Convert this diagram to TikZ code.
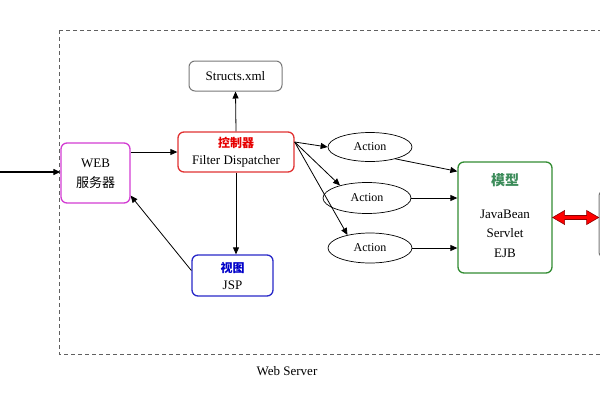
\documentclass[tikz,border=0pt]{standalone}
\usepackage{fontspec}
\setmainfont{Liberation Serif}
\newfontfamily\cjk{Noto Sans CJK SC}
\usetikzlibrary{shapes.geometric,arrows.meta,calc}
\definecolor{magbox}{RGB}{210,60,210}
\definecolor{redbox}{RGB}{225,50,50}
\definecolor{redtxt}{RGB}{230,0,0}
\definecolor{bluebox}{RGB}{40,40,200}
\definecolor{bluetxt}{RGB}{0,0,200}
\definecolor{greenbox}{RGB}{50,140,50}
\definecolor{greentxt}{RGB}{60,140,90}
\definecolor{graybox}{RGB}{120,120,120}
\definecolor{darkred}{RGB}{140,0,0}
\begin{document}
\begin{tikzpicture}[x=1pt,y=-1pt,
  font=\fontsize{13}{17}\selectfont,
  box/.style={draw, rounded corners=6pt, line width=1.3pt, inner sep=0pt, align=center},
  act/.style={draw, ellipse, line width=0.7pt, inner sep=0pt, font=\fontsize{12}{14}\selectfont},
  arr/.style={-{Triangle[length=7pt,width=6pt]}, line width=0.8pt},
  lbl/.style={font=\cjk\bfseries\fontsize{12}{14}\selectfont}]
\useasboundingbox (0,0) rectangle (600,400);
\draw[graybox!80!black, line width=0.8pt, dash pattern=on 4pt off 3pt] (59,30) rectangle (640,354);
\node[box, magbox, text=black, minimum width=69pt, minimum height=60pt, font=\fontsize{13}{20}\selectfont] (web) at (95.5,173) {\raisebox{3pt}{\begin{tabular}{@{}c@{}}WEB\\{\cjk 服务器}\end{tabular}}};
\node[box, redbox, text=black, minimum width=116pt, minimum height=40pt] (ctrl) at (236,152) {{\cjk\bfseries\fontsize{12}{14}\selectfont\color{redtxt}控制器}\\Filter Dispatcher};
\node[box, graybox, text=black, line width=1pt, minimum width=93pt, minimum height=30pt] (xml) at (235.5,76) {Structs.xml};
\node[box, bluebox, text=black, minimum width=81pt, minimum height=41pt] (jsp) at (232.5,275.5) {{\cjk\bfseries\fontsize{12}{14}\selectfont\color{bluetxt}视图}\\JSP};
\node[box, greenbox, text=black, minimum width=94pt, minimum height=111pt, font=\fontsize{13}{19.5}\selectfont] (model) at (505,217.5) {\raisebox{4pt}{\begin{tabular}{@{}c@{}}{\cjk\bfseries\fontsize{14}{16}\selectfont\color{greentxt}模型}\\[13pt]JavaBean\\Servlet\\EJB\end{tabular}}};
\node[act, minimum width=84pt, minimum height=29pt] (a1) at (370,147) {Action};
\node[act, minimum width=88pt, minimum height=31pt] (a2) at (367,198) {Action};
\node[act, minimum width=84pt, minimum height=30pt] (a3) at (370,248) {Action};
\node[draw, graybox, line width=1pt, rounded corners=6pt, minimum width=62pt, minimum height=68pt] (db) at (630,224) {};
\node (ws) at (287,371) {Web Server};
\coordinate (in) at (0,172);
\draw[arr, line width=1.2pt] (in) -- (in -| web.west);
\draw[arr] (web.east |- ctrl.west) -- (ctrl.west);
\draw[arr] (ctrl.north) -- (xml.south);
\draw[arr] (ctrl.south) -- (ctrl.south |- jsp.north);
\draw[arr] ([yshift=5pt]jsp.west) -- ([yshift=8pt]web.south east);
\draw[arr] ([yshift=10pt]ctrl.east) -- (a1.west);
\draw[arr] ([yshift=10pt]ctrl.east) -- (a2.155);
\draw[arr] ([yshift=10pt]ctrl.east) -- (a3.150);
\draw[arr] (a1.-25) -- ($(model.north west)+(0,10)$);
\draw[arr] (a2.east) -- (model.west |- a2.east);
\draw[arr] (a3.east) -- (model.west |- a3.east);
\draw[fill=red, draw=darkred, line width=0.6pt] (model.east) -- ++(12,-7) -- ++(0,5) -- ++(22,0) -- ++(0,-5) -- ++(12,7) -- ++(-12,7) -- ++(0,-5) -- ++(-22,0) -- ++(0,5) -- cycle;
\end{tikzpicture}
\end{document}
